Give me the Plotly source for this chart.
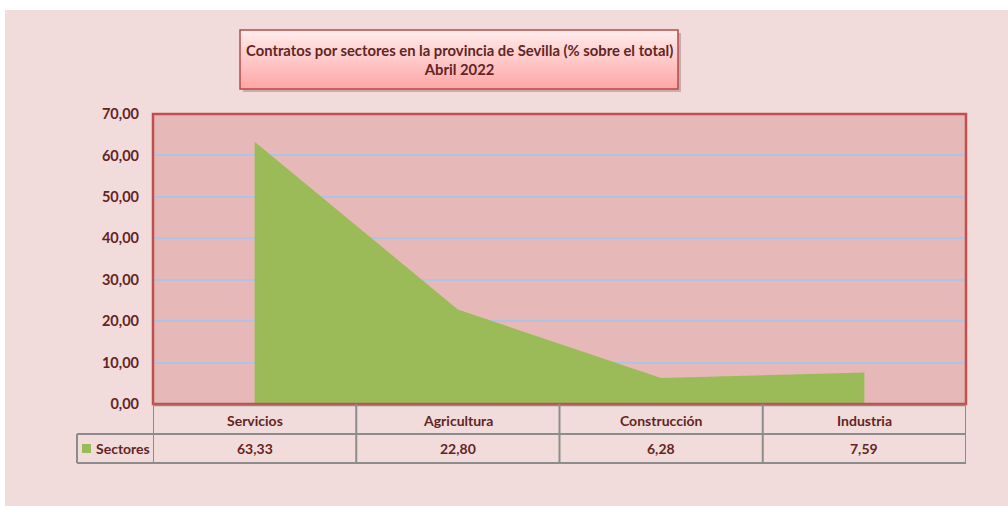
import plotly.graph_objects as go

categories = ["Servicios", "Agricultura", "Construcción", "Industria"]
values = [63.33, 22.80, 6.28, 7.59]
series_name = "Sectores"
title_lines = ["Contratos por sectores en la provincia de Sevilla (% sobre el total)", "Abril 2022"]

W, H = 1008, 506
def px(x): return x / W
def py(y): return 1 - y / H

TXT = "#632523"
FONT = "Lato"
PLOT_L, PLOT_R, PLOT_T, PLOT_B = 153, 966, 114, 404
ROW1_B, ROW2_B, LEG_L = 434, 463, 77

xs = list(range(len(categories)))
fig = go.Figure()
fig.add_trace(go.Scatter(x=xs, y=values, mode="lines", fill="tozeroy",
                         fillcolor="#9BBB59", line=dict(width=0, color="#9BBB59"),
                         name=series_name, showlegend=False, hoverinfo="skip"))

shapes = []
shapes.append(dict(type="rect", xref="paper", yref="paper", x0=px(5), x1=px(1008), y0=py(506), y1=py(10),
                   fillcolor="#F2DCDB", line=dict(width=0), layer="below"))
shapes.append(dict(type="rect", xref="paper", yref="paper", x0=px(PLOT_L), x1=px(PLOT_R), y0=py(PLOT_B), y1=py(PLOT_T),
                   fillcolor="#E6B9B8", line=dict(width=0), layer="below"))
shapes.append(dict(type="rect", xref="paper", yref="paper", x0=px(PLOT_L), x1=px(PLOT_R), y0=py(PLOT_B), y1=py(PLOT_T),
                   fillcolor="rgba(0,0,0,0)", line=dict(width=2.5, color="#C0504D"), layer="above"))

GRAY = "#8C8C8C"
n = len(categories)
for b in [i - 0.5 for i in range(n + 1)]:
    shapes.append(dict(type="line", xref="x", yref="paper", x0=b, x1=b, y0=py(ROW2_B), y1=py(PLOT_B),
                       line=dict(width=2, color=GRAY)))
shapes.append(dict(type="line", xref="paper", yref="paper", x0=px(PLOT_L), x1=px(PLOT_R), y0=py(PLOT_B + 1.5), y1=py(PLOT_B + 1.5),
                   line=dict(width=1.5, color=GRAY)))
for yy in [ROW1_B, ROW2_B]:
    shapes.append(dict(type="line", xref="paper", yref="paper", x0=px(LEG_L), x1=px(PLOT_R), y0=py(yy), y1=py(yy),
                       line=dict(width=2, color=GRAY)))
shapes.append(dict(type="line", xref="paper", yref="paper", x0=px(LEG_L), x1=px(LEG_L), y0=py(ROW2_B), y1=py(ROW1_B),
                   line=dict(width=2, color=GRAY)))
shapes.append(dict(type="rect", xref="paper", yref="paper", x0=px(82), x1=px(91), y0=py(453), y1=py(444),
                   fillcolor="#9BBB59", line=dict(width=0)))

TB_L, TB_R, TB_T, TB_B = 240, 678, 30, 89
shapes.append(dict(type="rect", xref="paper", yref="paper", x0=px(TB_L + 3), x1=px(TB_R + 3), y0=py(TB_B + 3), y1=py(TB_T + 3),
                   fillcolor="rgba(120,90,90,0.35)", line=dict(width=0)))
N = 24
c0 = (255, 236, 236)
c1 = (255, 168, 168)
for i in range(N):
    t = i / (N - 1)
    c = tuple(int(c0[k] + (c1[k] - c0[k]) * t) for k in range(3))
    y0 = TB_T + (TB_B - TB_T) * i / N
    y1 = TB_T + (TB_B - TB_T) * (i + 1) / N
    shapes.append(dict(type="rect", xref="paper", yref="paper", x0=px(TB_L), x1=px(TB_R), y0=py(y1 + 0.5), y1=py(y0),
                       fillcolor="rgb(%d,%d,%d)" % c, line=dict(width=0)))
shapes.append(dict(type="rect", xref="paper", yref="paper", x0=px(TB_L), x1=px(TB_R), y0=py(TB_B), y1=py(TB_T),
                   fillcolor="rgba(0,0,0,0)", line=dict(width=1.5, color="#B84A47")))

annotations = []
annotations.append(dict(xref="paper", yref="paper", x=px((TB_L + TB_R) / 2), y=py((TB_T + TB_B) / 2),
                        xanchor="center", yanchor="middle",
                        text="<br>".join(title_lines), showarrow=False, align="center",
                        font=dict(family=FONT, size=14.8, color=TXT, weight="bold")))
for i, (c, v) in enumerate(zip(categories, values)):
    annotations.append(dict(xref="x", yref="paper", x=i, y=py((PLOT_B + ROW1_B) / 2 + 1), text=c, showarrow=False,
                            xanchor="center", yanchor="middle",
                            font=dict(family=FONT, size=14, color=TXT, weight="bold")))
    annotations.append(dict(xref="x", yref="paper", x=i, y=py((ROW1_B + ROW2_B) / 2),
                            xanchor="center", yanchor="middle",
                            text=f"{v:.2f}".replace(".", ","), showarrow=False,
                            font=dict(family=FONT, size=14, color=TXT, weight="bold")))
annotations.append(dict(xref="paper", yref="paper", x=px(94), y=py((ROW1_B + ROW2_B) / 2), xanchor="left",
                        yanchor="middle", text=series_name, showarrow=False,
                        font=dict(family=FONT, size=14, color=TXT, weight="bold")))

fig.update_layout(
    width=W, height=H, autosize=False,
    margin=dict(l=0, r=0, t=0, b=0, pad=0, autoexpand=False),
    paper_bgcolor="white", plot_bgcolor="rgba(0,0,0,0)",
    separators=",.",
    shapes=shapes, annotations=annotations,
    showlegend=False,
    xaxis=dict(domain=[px(PLOT_L), px(PLOT_R)], range=[-0.5, n - 0.5], showgrid=False, zeroline=False,
               showticklabels=False, ticks="", fixedrange=True, automargin=False),
    yaxis=dict(domain=[py(PLOT_B), py(PLOT_T)], range=[0, 70], dtick=10, tickformat=".2f",
               showgrid=True, gridcolor="#AFC3E3", gridwidth=1.5, zeroline=False,
               ticks="", ticklabelstandoff=13, automargin=False,
               tickfont=dict(family=FONT, size=14.5, color=TXT, weight="bold")),
)
fig.write_html("out.html", config={"displayModeBar": False, "responsive": False},
               post_script="document.body.style.margin='0';document.body.style.overflow='hidden';")
